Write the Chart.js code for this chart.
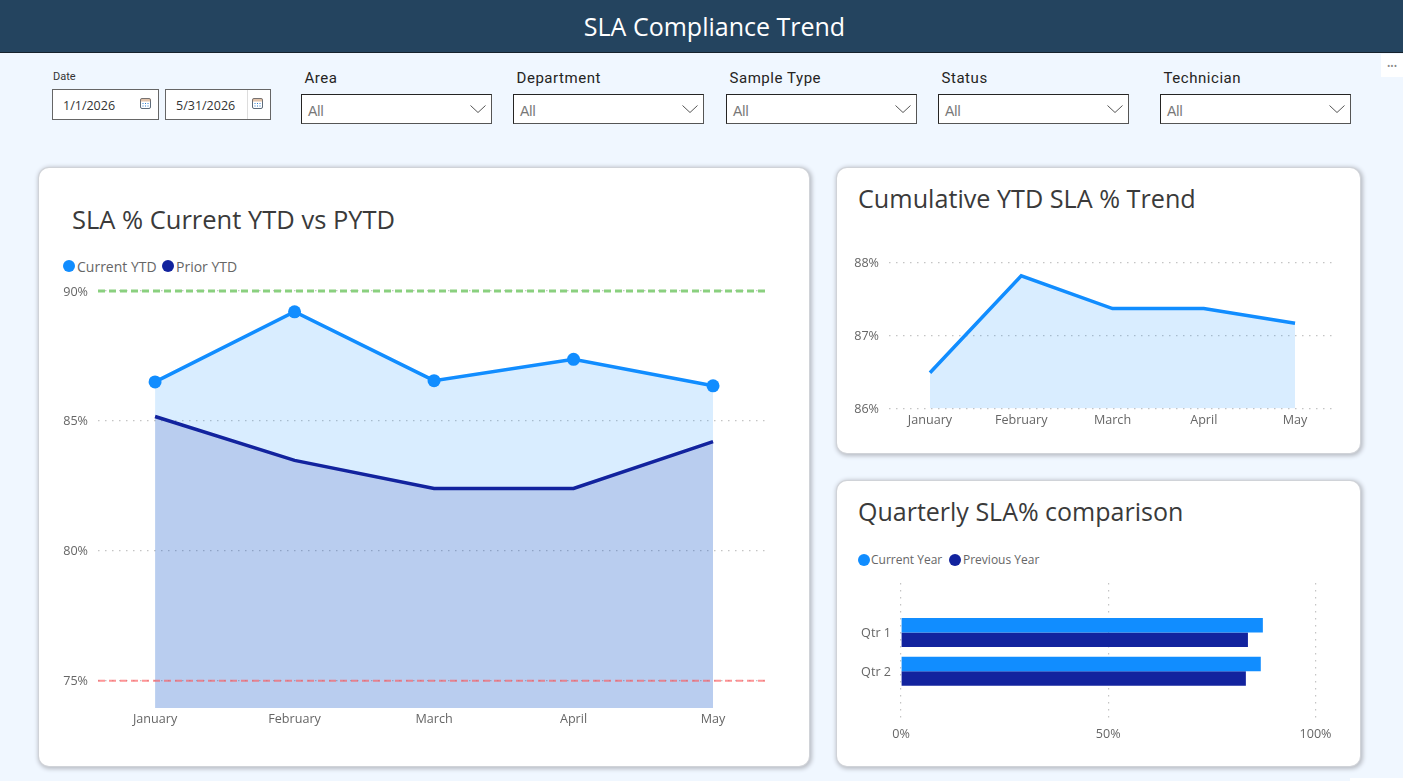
<!DOCTYPE html>
<html>
<head>
<meta charset="utf-8">
<title>SLA Compliance Trend</title>
<script src="https://cdn.jsdelivr.net/npm/chart.js@4"></script>
<style>
html, body { margin: 0; padding: 0; }
body { width: 1403px; height: 781px; background: #f0f7ff; position: relative; overflow: hidden; font-family: "Open Sans", sans-serif; }
.abs { position: absolute; }
#header { left: 0; top: 0; width: 1377px; padding-left: 26px; height: 52px; background: #24445f; border-bottom: 1px solid #16222c; color: #fff; text-align: center; font-size: 25px; line-height: 52px; }
.card { position: absolute; background: #fff; border-radius: 10px; box-shadow: 0 0 0 1px #d0d3d8, 1px 1px 4px 2px #b8bcc4; }
.card-title { position: absolute; color: #3a3a3a; font-size: 25px; line-height: 32px; white-space: nowrap; }
.slicer-label { position: absolute; font-family: Roboto, sans-serif; font-weight: 400; color: #252423; font-size: 15px; letter-spacing: .55px; line-height: 18px; }
.drop { position: absolute; top: 94px; width: 189px; height: 28px; background: #fff; border: 1px solid #252423; border-bottom-color: #555; border-right-color: #555; }
.drop span { position: absolute; left: 6px; top: 7px; font-family: "Liberation Sans", sans-serif; font-size: 14px; line-height: 18px; color: #777; }
.drop svg { position: absolute; right: 4px; top: 9px; }
.date { position: absolute; top: 89px; height: 29px; background: #fff; border: 1px solid #666; font-size: 12.5px; line-height: 31px; color: #333; }
.date span { position: absolute; left: 10px; }
.date svg { position: absolute; right: 7px; top: 8px; }
.date b { position: absolute; left: 81px; top: 0; width: 1px; height: 29px; background: #ddd; }
.legend { position: absolute; color: #666; white-space: nowrap; }
.legend i { position: absolute; border-radius: 50%; }
.legend span { position: absolute; white-space: nowrap; }
canvas { position: absolute; }
</style>
</head>
<body>
<div id="header" class="abs">SLA Compliance Trend</div>

<div class="abs" style="left:1381px;top:54px;width:22px;height:23px;background:#fff;color:#888;font-size:9px;line-height:23px;text-align:center;letter-spacing:0">&#8226;&#8226;&#8226;</div>
<div class="abs" style="left:1350px;top:778px;width:53px;height:3px;background:#fff"></div>

<div class="abs" style="left:53px;top:70px;font-family:Roboto,sans-serif;font-size:11px;color:#333;line-height:13px">Date</div>
<div id="dates"></div>
<div id="slicers"></div>

<div class="card" style="left:39px;top:168px;width:770px;height:598px"></div>
<div class="card" style="left:837px;top:168px;width:523px;height:285px"></div>
<div class="card" style="left:837px;top:481px;width:523px;height:285px"></div>

<div class="card-title" style="left:72px;top:203px;font-size:25.5px">SLA % Current YTD vs PYTD</div>
<div class="card-title" style="left:858px;top:182px;font-size:25.2px">Cumulative YTD SLA % Trend</div>
<div class="card-title" style="left:858px;top:495px">Quarterly SLA% comparison</div>

<div id="legendMain"></div>
<div id="legendBar"></div>

<canvas id="mainChart" width="767" height="480" style="left:40px;top:280px;width:767px;height:480px"></canvas>
<canvas id="cumChart" width="518" height="195" style="left:840px;top:250px;width:518px;height:195px"></canvas>
<canvas id="barChart" width="518" height="175" style="left:840px;top:575px;width:518px;height:175px"></canvas>

<script>
const months = ['January', 'February', 'March', 'April', 'May'];
const currentYtd = [86.5, 89.2, 86.55, 87.37, 86.35];
const priorYtd = [85.17, 83.48, 82.4, 82.4, 84.2];
const cumulativeYtd = [86.49, 87.82, 87.37, 87.37, 87.17];
const quarters = ['Qtr 1', 'Qtr 2'];
const currentYear = [87.3, 86.8];
const previousYear = [83.7, 83.2];
const upperTarget = 90;
const lowerTarget = 75;
const mainTicks = [75, 80, 85, 90];
const cumTicks = [86, 87, 88];
const barTicks = [0, 50, 100];

const slicerNames = ['Area', 'Department', 'Sample Type', 'Status', 'Technician'];
const slicerLefts = [301, 513, 726, 938, 1160];
const dateValues = ['1/1/2026', '5/31/2026'];

const BLUE = '#118dff';
const NAVY = '#12239e';
const FONT = '"Open Sans", sans-serif';
const GRID = '#c4c4c4';

// slicers across the top
const chevron = '<svg width="18" height="10" viewBox="0 0 18 10"><path d="M1.5 1.5 L9 8.5 L16.5 1.5" fill="none" stroke="#555" stroke-width="1"/></svg>';
const calIcon = '<svg width="11" height="11" viewBox="0 0 11 11"><rect x=".5" y=".5" width="10" height="10" rx="1.5" fill="#fff" stroke="#5d6b7a"/><rect x=".5" y=".5" width="10" height="3" fill="#c58a5a" opacity=".5"/><path d="M2.5 5.5h1M5 5.5h1M7.5 5.5h1M2.5 8h1M5 8h1M7.5 8h1" stroke="#2f7fd0"/></svg>';

document.getElementById('slicers').innerHTML = slicerNames.map((name, i) => `
    <div class="slicer-label" style="left:${slicerLefts[i] + 3.5}px;top:69px">${name}</div>
    <div class="drop" style="left:${slicerLefts[i]}px"><span>All</span>${chevron}</div>
`).join('');

document.getElementById('dates').innerHTML = dateValues.map((d, i) => `
    <div class="date" style="left:${52 + i * 113}px;width:${105 - i}px"><span>${d}</span>${i ? '<b></b>' : ''}${calIcon}</div>
`).join('');

function drawLegend(id, size, items) {
    document.getElementById(id).innerHTML = items.map(it => `
        <div class="legend" style="left:0;top:0;font-size:${size}px">
            <i style="left:${it.dot}px;top:${it.dotTop}px;width:12px;height:12px;background:${it.color}"></i>
            <span style="left:${it.text}px;top:${it.textTop}px">${it.label}</span>
        </div>`).join('');
}
drawLegend('legendMain', 14, [
    { label: 'Current YTD', color: BLUE, dot: 63, dotTop: 260, text: 77, textTop: 257 },
    { label: 'Prior YTD', color: NAVY, dot: 162, dotTop: 260, text: 176, textTop: 257 }
]);
drawLegend('legendBar', 12, [
    { label: 'Current Year', color: BLUE, dot: 858, dotTop: 554, text: 871, textTop: 551 },
    { label: 'Previous Year', color: NAVY, dot: 949, dotTop: 554, text: 963, textTop: 551 }
]);

function fixedTicks(values) {
    return scale => { scale.ticks = values.map(v => ({ value: v })); };
}

// width is fixed by hand, and the label overhang must not push the plot area down
function fixWidth(width) {
    return scale => {
        scale.width = width;
        scale.paddingTop = 0;
        scale.paddingBottom = 0;
    };
}

const tickStyle = { color: '#666', font: { family: FONT, size: 12.6 } };
const dottedGrid = { color: GRID, lineWidth: 1.2, drawTicks: false };
const dottedBorder = { display: false, dash: [1.5, 5.5] };
const noGrid = { display: false, drawTicks: false };

function monthAxis(min, max, height, pad) {
    return {
        type: 'linear', min: min, max: max,
        grid: noGrid,
        border: { display: false },
        afterBuildTicks: fixedTicks(months.map((m, i) => i)),
        afterFit: s => { s.height = height; },
        ticks: { ...tickStyle, padding: pad, autoSkip: false, maxRotation: 0, callback: v => months[v] }
    };
}

function percentAxis(min, max, values, width) {
    return {
        min: min, max: max,
        grid: dottedGrid,
        border: dottedBorder,
        afterBuildTicks: fixedTicks(values),
        afterFit: fixWidth(width),
        ticks: { ...tickStyle, padding: 10, labelOffset: 1, callback: v => v + '%' }
    };
}

const pairs = arr => arr.map((v, i) => ({ x: i, y: v }));
const plain = { legend: { display: false }, tooltip: { enabled: false } };

// main chart
const mainXMin = -0.409, mainXMax = 4.394;
new Chart(document.getElementById('mainChart'), {
    type: 'line',
    data: {
        datasets: [
            {
                label: 'Upper',
                data: [{ x: mainXMin, y: upperTarget }, { x: mainXMax, y: upperTarget }],
                borderColor: '#8ad07f', borderWidth: 3, borderDash: [7, 4], pointRadius: 0, fill: false
            },
            {
                label: 'Lower',
                data: [{ x: mainXMin, y: lowerTarget }, { x: mainXMax, y: lowerTarget }],
                borderColor: 'rgba(253, 90, 94, 0.65)', borderWidth: 2, borderDash: [7, 4], pointRadius: 0, fill: false
            },
            {
                label: 'Prior YTD',
                data: pairs(priorYtd),
                borderColor: NAVY, borderWidth: 3.5, pointRadius: 0,
                fill: 'start', backgroundColor: 'rgba(18, 35, 158, 0.16)'
            },
            {
                label: 'Current YTD',
                data: pairs(currentYtd),
                borderColor: BLUE, borderWidth: 3.5,
                pointRadius: 6.5, pointBackgroundColor: BLUE, pointBorderWidth: 0,
                fill: 'start', backgroundColor: 'rgba(17, 141, 255, 0.16)'
            }
        ]
    },
    options: {
        responsive: false, animation: false,
        layout: { autoPadding: false, padding: { top: 5.8, right: 39, left: 0, bottom: 0 } },
        plugins: plain,
        scales: {
            x: monthAxis(mainXMin, mainXMax, 52, 4),
            y: percentAxis(73.95, 90.2, mainTicks, 58)
        }
    }
});

// cumulative chart
new Chart(document.getElementById('cumChart'), {
    type: 'line',
    data: {
        datasets: [{
            label: 'Cumulative YTD',
            data: pairs(cumulativeYtd),
            borderColor: BLUE, borderWidth: 3.5, pointRadius: 0,
            fill: 'start', backgroundColor: 'rgba(17, 141, 255, 0.16)'
        }]
    },
    options: {
        responsive: false, animation: false,
        layout: { autoPadding: false, padding: { top: 8.3, right: 26, left: 0, bottom: 0 } },
        plugins: plain,
        scales: {
            x: monthAxis(-0.449, 4.405, 36.5, 4),
            y: percentAxis(86, 88.06, cumTicks, 49)
        }
    }
});

// quarterly bars, y is linear so the two groups can sit close together
new Chart(document.getElementById('barChart'), {
    type: 'bar',
    data: {
        datasets: [
            { label: 'Current Year', data: currentYear.map((v, i) => ({ x: v, y: i })), backgroundColor: BLUE },
            { label: 'Previous Year', data: previousYear.map((v, i) => ({ x: v, y: i })), backgroundColor: NAVY }
        ]
    },
    options: {
        indexAxis: 'y',
        responsive: false, animation: false,
        layout: { autoPadding: false, padding: { top: 8, right: 42.5, left: 0, bottom: 0 } },
        plugins: plain,
        datasets: { bar: { categoryPercentage: 0.75, barPercentage: 1 } },
        scales: {
            x: {
                min: 0, max: 100,
                grid: dottedGrid,
                border: dottedBorder,
                afterBuildTicks: fixedTicks(barTicks),
                afterFit: s => { s.height = 27; },
                ticks: { ...tickStyle, padding: 4, maxRotation: 0, callback: v => v + '%' }
            },
            y: {
                type: 'linear', reverse: true, offset: false, min: -1.279, max: 2.338,
                grid: noGrid,
                border: { display: false },
                afterBuildTicks: fixedTicks(quarters.map((q, i) => i)),
                afterFit: fixWidth(61),
                ticks: { ...tickStyle, padding: 10, labelOffset: 1, callback: v => quarters[v] }
            }
        }
    }
});
</script>
</body>
</html>
